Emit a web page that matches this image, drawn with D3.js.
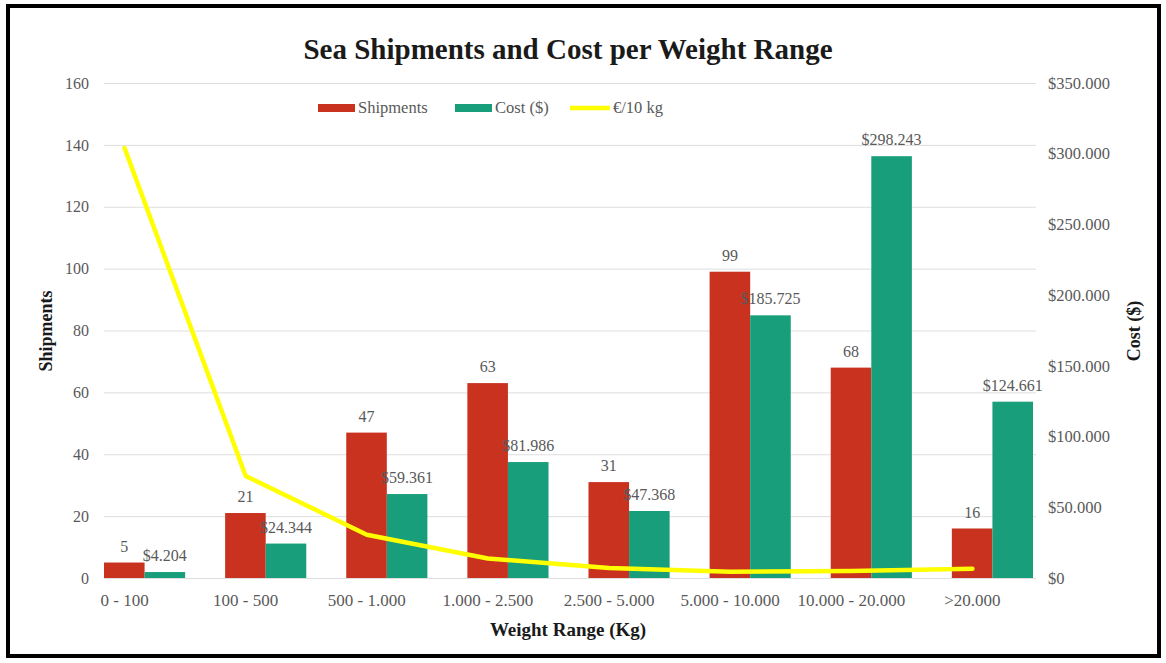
<!DOCTYPE html>
<html>
<head>
<meta charset="utf-8">
<script src="https://cdn.jsdelivr.net/npm/d3@7"></script>
<style>
  html, body { margin: 0; padding: 0; background: #fff; }
  svg { display: block; }
</style>
</head>
<body>
<svg id="chart" width="1166" height="663"></svg>
<script>
// ---- data ----
const categories = ["0 - 100", "100 - 500", "500 - 1.000", "1.000 - 2.500", "2.500 - 5.000", "5.000 - 10.000", "10.000 - 20.000", ">20.000"];
const shipments = [5, 21, 47, 63, 31, 99, 68, 16];
const costs = [4204, 24344, 59361, 81986, 47368, 185725, 298243, 124661];
const eurPer10kg = [139, 33, 14, 6.3, 3.2, 2, 2.3, 3];
const leftTicks = [0, 20, 40, 60, 80, 100, 120, 140, 160];
const rightTicks = [0, 50000, 100000, 150000, 200000, 250000, 300000, 350000];
const seriesNames = ["Shipments", "Cost ($)", "€/10 kg"];

// ---- styles ----
const RED = "#C8321F", GREEN = "#189E7B", YELLOW = "#FFFF00";
const FONT = "'Liberation Serif', 'Times New Roman', serif";
const GRAY = "#595959";

const svg = d3.select("#chart");
const locale = d3.formatLocale({ decimal: ",", thousands: ".", grouping: [3], currency: ["$", ""] });
const money = locale.format("$,");

const plot = { left: 104, right: 1033, top: 83, bottom: 578 };

const x = d3.scaleBand().domain(categories).range([plot.left, plot.right]).paddingInner(0.33).paddingOuter(0);
const xl = x.copy().range([plot.left - 20, plot.right - 20]);
const sub = d3.scaleBand().domain(["s", "c"]).range([0, x.bandwidth()]).padding(0);
const y = d3.scaleLinear().domain([0, 160]).range([plot.bottom, plot.top]);
const y2 = d3.scaleLinear().domain([0, 350000]).range([plot.bottom, plot.top]);

// outer border
svg.append("rect").attr("x", 8).attr("y", 6).attr("width", 1151).attr("height", 650)
  .attr("fill", "#fff").attr("stroke", "#000").attr("stroke-width", 4);

// gridlines
svg.append("g").attr("transform", `translate(${plot.left},0)`)
  .call(d3.axisLeft(y).tickValues(leftTicks).tickSize(-(plot.right - plot.left + 3)).tickFormat(""))
  .call(g => g.select(".domain").remove())
  .call(g => g.selectAll("line").attr("stroke", "#dedede").attr("stroke-width", 1));

// left axis labels
svg.append("g").attr("transform", `translate(${plot.left - 15},0)`)
  .call(d3.axisLeft(y).tickValues(leftTicks).tickSize(0).tickPadding(0))
  .call(g => g.select(".domain").remove())
  .call(g => g.selectAll("text").attr("font-family", FONT).attr("font-size", 16).attr("fill", GRAY));

// right axis labels
svg.append("g").attr("transform", `translate(${plot.right + 15},0)`)
  .call(d3.axisRight(y2).tickValues(rightTicks).tickSize(0).tickPadding(0).tickFormat(money))
  .call(g => g.select(".domain").remove())
  .call(g => g.selectAll("text").attr("font-family", FONT).attr("font-size", 16.5).attr("fill", GRAY));

// x axis labels
svg.append("g").attr("transform", `translate(0,${plot.bottom})`)
  .call(d3.axisBottom(xl).tickSize(0).tickPadding(16))
  .call(g => g.select(".domain").remove())
  .call(g => g.selectAll("text").attr("font-family", FONT).attr("font-size", 17).attr("fill", GRAY));

// baseline
svg.append("line").attr("x1", plot.left).attr("x2", plot.right + 3)
  .attr("y1", plot.bottom + 0.5).attr("y2", plot.bottom + 0.5).attr("stroke", "#dedede");

// bars
const groups = svg.append("g").selectAll("g").data(categories).join("g")
  .attr("transform", d => `translate(${x(d)},0)`);
groups.append("rect")
  .attr("x", sub("s")).attr("width", sub.bandwidth())
  .attr("y", (d, i) => y(shipments[i])).attr("height", (d, i) => y(0) - y(shipments[i]))
  .attr("fill", RED);
groups.append("rect")
  .attr("x", sub("c")).attr("width", sub.bandwidth())
  .attr("y", (d, i) => y2(costs[i])).attr("height", (d, i) => y2(0) - y2(costs[i]))
  .attr("fill", GREEN);

// line
const line = d3.line().x((d, i) => xl(categories[i]) + xl.bandwidth() / 2).y(d => y(d));
svg.append("path").datum(eurPer10kg).attr("d", line)
  .attr("fill", "none").attr("stroke", YELLOW).attr("stroke-width", 4.5)
  .attr("stroke-linejoin", "round").attr("stroke-linecap", "round");

// data labels
groups.append("text")
  .attr("x", sub("s") + sub.bandwidth() / 2)
  .attr("y", (d, i) => y(shipments[i]) - 11)
  .attr("text-anchor", "middle").attr("font-family", FONT).attr("font-size", 16).attr("fill", GRAY)
  .text((d, i) => shipments[i]);
groups.append("text")
  .attr("x", sub("c") + sub.bandwidth() / 2)
  .attr("y", (d, i) => y2(costs[i]) - 11)
  .attr("text-anchor", "middle").attr("font-family", FONT).attr("font-size", 16).attr("fill", GRAY)
  .text((d, i) => money(costs[i]));

// title
svg.append("text").attr("x", 568).attr("y", 59).attr("text-anchor", "middle")
  .attr("font-family", FONT).attr("font-size", 29).attr("font-weight", "bold").attr("fill", "#1a1a1a")
  .text("Sea Shipments and Cost per Weight Range");

// axis titles
svg.append("text").attr("transform", `translate(52,331) rotate(-90)`).attr("text-anchor", "middle")
  .attr("font-family", FONT).attr("font-size", 18).attr("font-weight", "bold").attr("fill", "#1a1a1a")
  .text("Shipments");
svg.append("text").attr("transform", `translate(1140,331) rotate(-90)`).attr("text-anchor", "middle")
  .attr("font-family", FONT).attr("font-size", 18).attr("font-weight", "bold").attr("fill", "#1a1a1a")
  .text("Cost ($)");
svg.append("text").attr("x", 568).attr("y", 636).attr("text-anchor", "middle")
  .attr("font-family", FONT).attr("font-size", 19).attr("font-weight", "bold").attr("fill", "#1a1a1a")
  .text("Weight Range (Kg)");

// legend
const legendX = [318, 455, 570];
const leg = svg.append("g").selectAll("g").data(seriesNames).join("g")
  .attr("transform", (d, i) => `translate(${legendX[i]},108)`);
leg.filter((d, i) => i < 2).append("rect")
  .attr("x", 0).attr("y", -4).attr("width", 37).attr("height", 8)
  .attr("fill", (d, i) => [RED, GREEN][i]);
leg.filter((d, i) => i === 2).append("line")
  .attr("x1", 0).attr("x2", 40).attr("y1", 0).attr("y2", 0)
  .attr("stroke", YELLOW).attr("stroke-width", 4.5);
leg.append("text").attr("x", (d, i) => i === 2 ? 43 : 40).attr("y", 5)
  .attr("font-family", FONT).attr("font-size", 16.5).attr("fill", GRAY)
  .text(d => d);
</script>
</body>
</html>
